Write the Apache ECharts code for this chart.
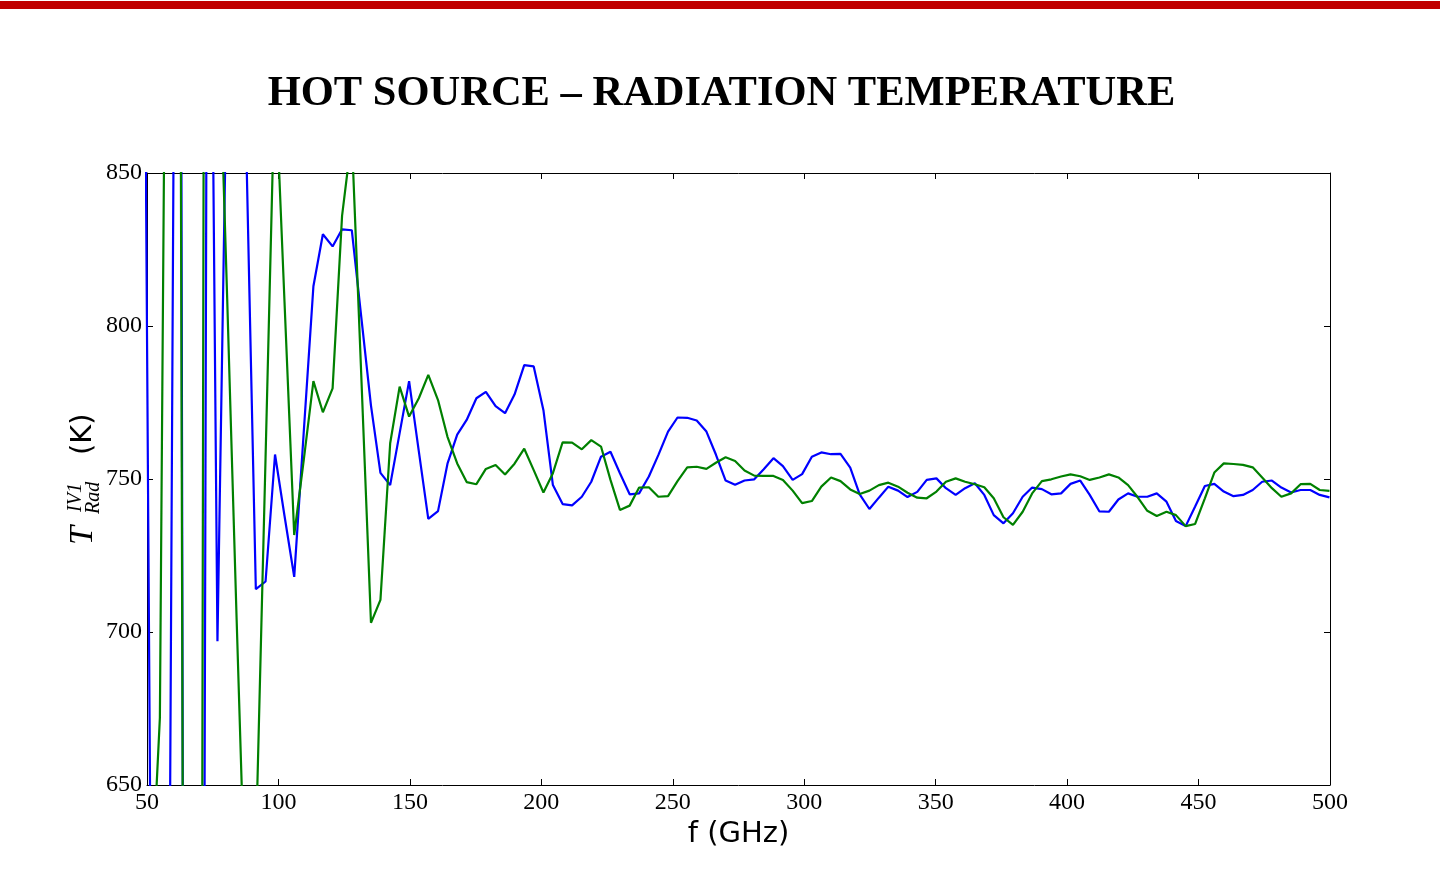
<!DOCTYPE html>
<html><head><meta charset="utf-8">
<script src="https://cdn.jsdelivr.net/npm/echarts@6/dist/echarts.min.js"></script>
<style>html,body{margin:0;padding:0;background:#fff}#c{width:1443px;height:894px}</style>
</head><body><div id="c"></div>
<script>
var freq = [47.7,51.3,54.9,58.6,62.2,65.9,69.5,73.2,76.8,80.5,84.1,87.8,91.4,95.1,98.7,102.3,106.0,109.6,113.3,116.9,120.6,124.2,127.9,131.5,135.2,138.8,142.5,146.1,149.7,153.4,157.0,160.7,164.3,168.0,171.6,175.3,178.9,182.6,186.2,189.8,193.5,197.1,200.8,204.4,208.1,211.7,215.4,219.0,222.7,226.3,229.9,233.6,237.2,240.9,244.5,248.2,251.8,255.5,259.1,262.8,266.4,270.1,273.7,277.3,281.0,284.6,288.3,291.9,295.6,299.2,302.9,306.5,310.2,313.8,317.5,321.1,324.8,328.4,332.0,335.7,339.3,343.0,346.6,350.3,353.9,357.6,361.2,364.9,368.5,372.1,375.8,379.4,383.1,386.7,390.4,394.0,397.7,401.3,405.0,408.6,412.3,415.9,419.5,423.2,426.8,430.5,434.1,437.8,441.4,445.1,448.7,452.4,456.0,459.6,463.3,466.9,470.6,474.2,477.9,481.5,485.2,488.8,492.5,496.1,499.8];
var blueT = [1092,631,560,615,1200,-244,-100,1050,697,893,920,857,714,716.5,758,738,718,765,813,830,826,831.6,831.3,803,774,752,748,765,782,759,737,739.5,755,764.5,769.3,776.4,778.5,773.8,771.5,777.6,787.2,786.8,772.5,748,741.8,741.4,744.2,749.1,757.3,758.9,751.9,745,745.3,750.8,757.8,765.5,770.1,770,769.1,765.5,758,749.5,748.1,749.5,749.9,753.2,756.8,754.2,749.7,751.6,757.3,758.7,758.1,758.2,753.7,745,740.2,743.9,747.5,746.2,744.1,745.8,749.7,750.2,747,744.8,747,748.6,744.8,738.2,735.5,738.8,744.2,747.2,746.7,745,745.3,748.4,749.5,744.8,739.4,739.3,743.3,745.3,744.2,744.2,745.3,742.6,736.3,734.6,741,747.7,748.4,745.9,744.4,744.8,746.4,749.1,749.5,747.2,745.6,746.4,746.4,744.8,744];
var greenT = [500,608,672,1100,1062,-58,0,1560,913,809,704,600,630,757,883,808,731.7,756,782,771.8,779.6,836,862,784,703,710.5,761.7,780.2,770.4,776.4,784,775.8,763.8,755.1,749,748.3,753.3,754.6,751.5,755,759.9,752.9,745.6,751.9,762,761.9,759.7,762.7,760.6,749.7,739.9,741.3,747.2,747.3,744.2,744.4,749.3,753.8,754,753.3,755.3,757.1,755.9,752.8,751.1,751,751,749.7,746.2,742.1,742.8,747.5,750.5,749.3,746.6,745.1,746.2,748,748.8,747.5,745.5,743.9,743.7,745.9,749.1,750.2,749.1,748.3,747.3,743.7,737.5,735,739.3,745.3,749.3,749.9,750.8,751.5,750.9,749.7,750.5,751.5,750.5,748,744.1,739.6,737.9,739.3,738.2,734.6,735.3,743.7,752.1,755.1,754.9,754.6,753.8,750.5,747,744.2,745.3,748.3,748.4,746.4,746.1];
var xTicks = [50,100,150,200,250,300,350,400,450,500];
var yTicks = [650,700,750,800,850];

var chart = echarts.init(document.getElementById('c'), null, {renderer:'canvas'});
var serif = 'Liberation Serif';
var lbl = {fontFamily: serif, fontSize: 24, color: '#000'};
function axisCommon(extra){
  return Object.assign({
    axisLine:{show:true, onZero:false, lineStyle:{color:'#000', width:1}},
    axisTick:{show:true, inside:true, length:6, lineStyle:{color:'#000', width:1}},
    splitLine:{show:false}
  }, extra);
}
chart.setOption({
  animation:false,
  backgroundColor:'#fff',
  title:{text:'HOT SOURCE \u2013 RADIATION TEMPERATURE', left:'center', top:68,
    textStyle:{fontFamily:serif, fontWeight:'bold', fontSize:42.5, color:'#000'}},
  grid:{left:147, right:113, top:173, bottom:109, containLabel:false},
  xAxis:[
    axisCommon({type:'value', min:50, max:500, interval:50, position:'bottom',
      axisLabel:Object.assign({margin:6}, lbl),
      name:'f (GHz)', nameLocation:'middle', nameGap:32,
      nameTextStyle:{fontFamily:'DejaVu Sans', fontSize:29, color:'#000'}}),
    axisCommon({type:'value', min:50, max:500, interval:50, position:'top', axisLabel:{show:false}})
  ],
  yAxis:[
    axisCommon({type:'value', min:650, max:850, interval:50, position:'left',
      axisLabel:Object.assign({margin:5}, lbl)}),
    axisCommon({type:'value', min:650, max:850, interval:50, position:'right', axisLabel:{show:false}})
  ],
  series:[
    {type:'line', name:'blue', data:freq.map(function(f,i){return [f, blueT[i]];}),
      showSymbol:false, clip:true, lineStyle:{color:'#0000ff', width:2.2}, z:2},
    {type:'line', name:'green', data:freq.map(function(f,i){return [f, greenT[i]];}),
      showSymbol:false, clip:true, lineStyle:{color:'#008000', width:2.2}, z:3}
  ],
  graphic:[
    {type:'rect', left:0, top:1, shape:{width:1440, height:8}, style:{fill:'#c00000'}},
    {type:'group', x:83, y:482, rotation:Math.PI/2, children:[
      {type:'text', x:-63, y:0, style:{text:'T', fontFamily:serif, fontStyle:'italic', fontSize:34, fill:'#000', textAlign:'left', textVerticalAlign:'middle'}},
      {type:'text', x:-30, y:-7, style:{text:'IV1', fontFamily:serif, fontStyle:'italic', fontSize:20, fill:'#000', textAlign:'left', textVerticalAlign:'middle'}},
      {type:'text', x:-32, y:11, style:{text:'Rad', fontFamily:serif, fontStyle:'italic', fontSize:20, fill:'#000', textAlign:'left', textVerticalAlign:'middle'}},
      {type:'text', x:27, y:0, style:{text:'(K)', fontFamily:'DejaVu Sans', fontSize:29, fill:'#000', textAlign:'left', textVerticalAlign:'middle'}}
    ]}
  ]
});
</script></body></html>
